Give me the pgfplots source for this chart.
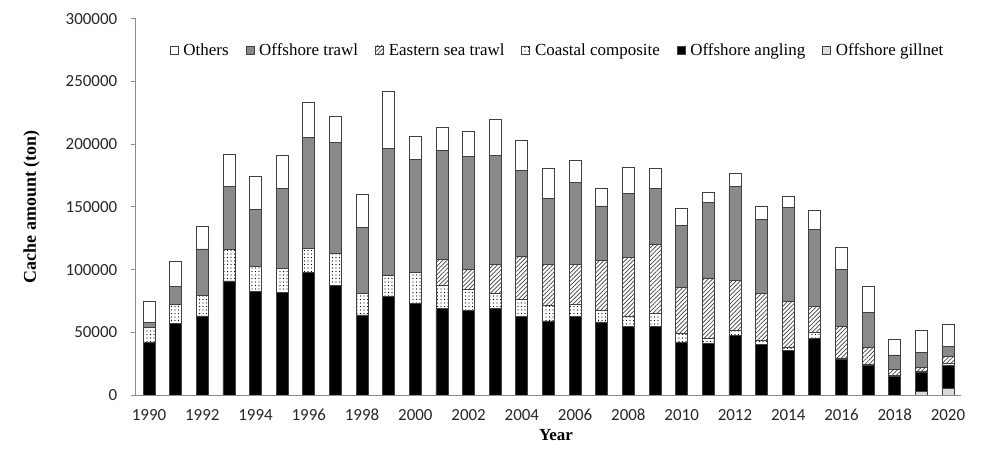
\documentclass[border=0pt]{standalone}
\usepackage{pgfplots}
\pgfplotsset{compat=1.18}
\usepackage{pgfplotstable}
\usepackage{fontspec}
\setmainfont{Liberation Serif}
\newfontfamily\carlito{Carlito}
\usetikzlibrary{patterns.meta}
\definecolor{edge}{HTML}{404040}
\definecolor{axisgray}{HTML}{8C8C8C}
\definecolor{trawlgray}{HTML}{8A8A8A}
\definecolor{gillgray}{HTML}{DADADA}
\pgfplotstableread{
year gill angl coast east trawl others
1990 0 42000 11600 0 4000 16800
1991 0 57100 15400 0 13800 19900
1992 0 63000 16700 0 36700 18000
1993 0 90900 25200 0 50000 26000
1994 0 82900 19400 0 45700 26300
1995 0 81900 18800 0 64300 26300
1996 0 97800 18800 0 88500 27900
1997 0 87200 25700 0 88500 20800
1998 0 63800 17500 0 52100 26300
1999 0 78900 16800 0 101200 45400
2000 0 72800 24700 0 90400 18000
2001 0 68800 18600 20700 86900 18100
2002 0 67200 17000 15700 90600 19900
2003 0 68800 12000 23300 87200 28400
2004 0 62400 13600 34800 68000 24500
2005 0 59000 12700 32400 52900 23400
2006 0 62400 9900 31800 65700 17000
2007 0 58200 9600 39300 43600 14300
2008 0 54500 8500 46700 51000 20700
2009 0 54500 10900 55000 44600 15400
2010 0 42000 6900 36900 49400 13600
2011 0 41200 3700 48400 60000 8200
2012 0 47600 3700 40100 74700 10300
2013 0 40400 3400 37200 58800 10900
2014 0 35600 2700 36100 75200 8500
2015 0 45400 4300 21200 60900 15100
2016 0 28400 1000 25100 45700 17800
2017 0 23600 1000 13700 27300 20700
2018 0 14600 1000 4900 11400 12700
2019 2600 15500 800 3200 11600 18100
2020 5300 18100 1900 5800 7400 18100
}\data
\begin{document}
\begin{tikzpicture}
\path[use as bounding box] (-135.7bp,-62bp) rectangle (855.3bp,395bp);
\begin{axis}[
  scale only axis,
  width=825.6bp, height=376.3bp,
  ybar stacked, bar width=12bp,
  xmin=1989.5, xmax=2020.5,
  ymin=0, ymax=300000,
  axis x line*=bottom, axis y line*=left,
  axis line style={axisgray, line width=0.8pt},
  xtick={1990,1992,...,2020},
  ytick={0,50000,...,300000},
  x tick style={draw=none},
  y tick style={axisgray, line width=0.8pt},
  major tick length=5bp,
  tick align=outside,
  scaled ticks=false,
  /pgf/number format/assume math mode=true,
  xticklabel={\pgfmathprintnumber[1000 sep={},fixed]{\tick}},
  yticklabel={\pgfmathprintnumber[1000 sep={},fixed]{\tick}},
  tick label style={font=\carlito\fontsize{17}{20}\selectfont, text=black!85},
  xticklabel style={anchor=center, yshift=-15bp},
  yticklabel style={anchor=east, xshift=-10bp},
  xlabel={\textbf{Year}},
  ylabel={\textbf{Cache amount (ton)}},
  xlabel style={font=\fontsize{17}{20}\selectfont, at={(axis description cs:0.509,-0.106)}, anchor=center},
  ylabel style={font=\fontsize{18}{21}\selectfont, at={(axis description cs:-0.126,0.5)}, anchor=center},
  reverse legend,
  legend style={at={(axis description cs:0.511,0.917)}, anchor=center,
    draw=none, fill=none, legend columns=-1,
    font=\fontsize{17}{20}\selectfont,
    /tikz/every even column/.append style={column sep=15bp}},
  legend image code/.code={\draw[#1, line width=0.5pt] (0bp,-4bp) rectangle (8bp,4bp); \path (11bp,0bp);},
]
\addplot[fill=gillgray, draw=edge, line width=0.8pt] table[x=year, y=gill] {\data};
\addlegendentry{Offshore gillnet}
\addplot[fill=black, draw=edge, line width=0.8pt] table[x=year, y=angl] {\data};
\addlegendentry{Offshore angling}
\addplot[pattern={Dots[distance=3.5bp, radius=0.7bp]}, pattern color=black, draw=edge, line width=0.8pt] table[x=year, y=coast] {\data};
\addlegendentry{Coastal composite}
\addplot[pattern={Lines[angle=45, distance=3bp, line width=0.7bp]}, pattern color=edge, draw=edge, line width=0.8pt] table[x=year, y=east] {\data};
\addlegendentry{Eastern sea trawl}
\addplot[fill=trawlgray, draw=edge, line width=0.8pt] table[x=year, y=trawl] {\data};
\addlegendentry{Offshore trawl}
\addplot[fill=white, draw=edge, line width=0.8pt] table[x=year, y=others] {\data};
\addlegendentry{Others}
\end{axis}
\end{tikzpicture}
\end{document}
